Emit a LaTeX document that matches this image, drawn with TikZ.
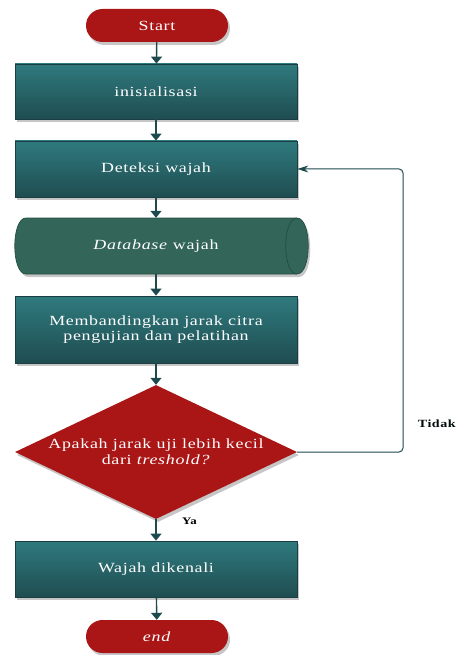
\documentclass[tikz,border=0pt]{standalone}
\usepackage{fontspec}
\setmainfont{Liberation Serif}[FakeStretch=1.28, LetterSpace=5]
\usetikzlibrary{arrows.meta, shapes.geometric, shadows}
\definecolor{boxtop}{HTML}{2F7A7E}
\definecolor{boxbot}{HTML}{1F4D51}
\definecolor{boxline}{HTML}{1A3E41}
\definecolor{termred}{HTML}{AA1616}
\definecolor{dbgreen}{HTML}{336658}
\definecolor{dbline}{HTML}{244D42}
\definecolor{arrowc}{HTML}{1C4A4E}
\tikzset{
  shade/.style = {drop shadow={opacity=0.45, shadow xshift=2pt, shadow yshift=-3pt}},
  procbox/.style = {rectangle, draw=boxline, line width=0.8pt, top color=boxtop, bottom color=boxbot,
    minimum width=282pt, text=white, align=center, font=\fontsize{14}{15}\selectfont, shade},
  termbox/.style = {rectangle, rounded corners=16.5pt, fill=termred, minimum width=142pt,
    minimum height=33pt, text=white, font=\fontsize{14}{15}\selectfont, shade},
  decbox/.style = {diamond, fill=termred, aspect=2.1, inner sep=0pt, minimum width=282pt,
    minimum height=134pt, text=white, align=center, font=\fontsize{14}{16}\selectfont, shade},
  flow/.style = {draw=arrowc, line width=1.4pt, -{Triangle[width=11pt, length=7pt]}},
  back/.style = {draw=arrowc, line width=1pt, rounded corners=4pt, -{Stealth[width=7pt, length=11pt]}}
}
\begin{document}
\begin{tikzpicture}[x=1pt, y=-1pt]
\useasboundingbox (0,0) rectangle (460,655);
\node[termbox] (start) at (157,25.5) {Start};
\node[procbox, minimum height=55pt] (init) at (156,91.5) {inisialisasi};
\node[procbox, minimum height=56pt] (detect) at (156,169) {Deteksi wajah};
\draw[dbline, line width=0.7pt, fill=dbgreen, shade] (26,218) -- (297,218) .. controls (312,218) and (312,274) .. (297,274)
  -- (26,274) .. controls (11,274) and (11,218) .. (26,218) -- cycle;
\draw[dbline, line width=0.7pt] (297,218) .. controls (282,218) and (282,274) .. (297,274);
\node[minimum width=282pt, minimum height=56pt, text=white, font=\fontsize{14}{15}\selectfont] (db) at (156,246) {\textit{Database} wajah};
\node[procbox, minimum height=67pt] (compare) at (156,329.5) {Membandingkan jarak citra\\pengujian dan pelatihan};
\node[decbox] (decide) at (156,452) {Apakah jarak uji lebih kecil\\dari \textit{treshold?}};
\node[procbox, minimum height=56pt] (known) at (156,569) {Wajah dikenali};
\node[termbox] (stop) at (157,636.5) {\textit{end}};
\draw[flow] (start) -- (init);
\draw[flow] (init) -- (detect);
\draw[flow] (detect) -- (db);
\draw[flow] (db) -- (compare);
\draw[flow] (compare) -- (decide);
\draw[flow] (decide) -- node[right, xshift=22pt, yshift=9pt, font=\fontsize{10}{12}\selectfont\bfseries] {Ya} (known);
\draw[flow] (known) -- (stop);
\draw[back] (decide.east) -- (403,452) -- node[pos=0.1, right, xshift=11pt, font=\fontsize{11}{12}\selectfont\bfseries, text=black!85!arrowc] {Tidak} (403,169) -- (detect.east);
\end{tikzpicture}
\end{document}
